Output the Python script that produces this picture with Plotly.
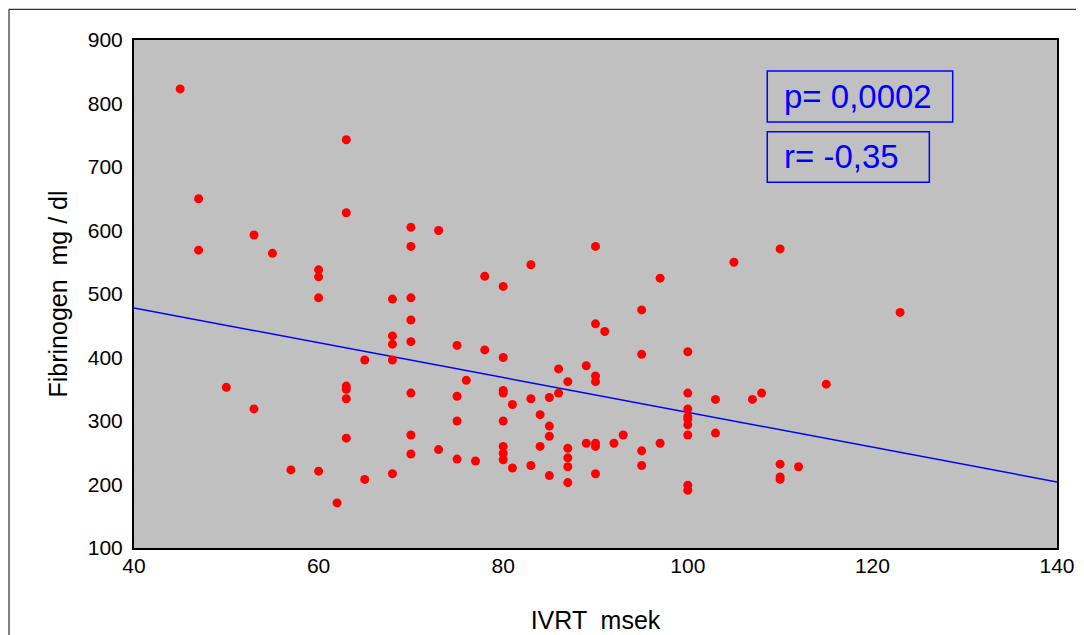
import plotly.graph_objects as go

ivrt = [45, 47, 47, 50, 53, 53, 55, 57, 60, 60, 60, 60, 62, 63, 63, 63, 63, 63, 63,
        65, 65, 68, 68, 68, 68, 68, 70, 70, 70, 70, 70, 70, 70, 70, 73, 73,
        75, 75, 75, 75, 76, 77, 78, 78, 80, 80, 80, 80, 80, 80, 80, 80, 81, 81,
        83, 83, 83, 84, 84, 85, 85, 85, 85, 86, 86, 87, 87, 87, 87, 87, 89, 89,
        90, 90, 90, 90, 90, 90, 90, 91, 92, 93, 95, 95, 95, 95, 97, 97,
        100, 100, 100, 100, 100, 100, 100, 100, 100, 103, 103, 105, 107, 108,
        110, 110, 110, 110, 112, 115, 123]
fibrinogen = [823, 650, 569, 353, 593, 319, 564, 223, 538, 527, 494, 221, 171, 743, 628, 355, 350, 335, 273,
              396, 208, 492, 434, 421, 396, 217, 605, 575, 494, 459, 425, 344, 278, 248, 600, 255,
              419, 339, 300, 240, 364, 237, 528, 412, 512, 400, 348, 344, 300, 260, 249, 239, 326, 226,
              546, 335, 230, 310, 260, 337, 292, 276, 214, 382, 344, 362, 257, 242, 228, 203, 387, 265,
              575, 453, 371, 362, 265, 260, 217, 441, 265, 278, 475, 405, 253, 230, 525, 265,
              409, 344, 319, 307, 303, 294, 278, 199, 191, 334, 281, 550, 334, 344,
              571, 232, 212, 208, 228, 358, 471]

fit_x = [40, 140]
fit_y = [478, 204]

x_ticks = [40, 60, 80, 100, 120, 140]
y_ticks = [100, 200, 300, 400, 500, 600, 700, 800, 900]

p_text = "p= 0,0002"
r_text = "r= -0,35"

FONT = "Liberation Sans, Arial, sans-serif"

fig = go.Figure()
fig.add_trace(go.Scatter(x=fit_x, y=fit_y, mode="lines",
                         line=dict(color="#0000FF", width=1.5), hoverinfo="skip"))
fig.add_trace(go.Scatter(x=ivrt, y=fibrinogen, mode="markers",
                         marker=dict(color="#FF0000", size=9, line=dict(width=0))))

# page body has an 8px default margin, so the figure is 8px smaller and offset
fig.update_layout(
    width=1076, height=627,
    margin=dict(l=126, r=27, t=32, b=87),
    paper_bgcolor="white",
    plot_bgcolor="#C0C0C0",
    showlegend=False,
    font=dict(family=FONT, color="black", size=21),
    xaxis=dict(range=[40, 140], tickvals=x_ticks, showgrid=False, zeroline=False,
               showline=True, linecolor="black", linewidth=2, mirror=True,
               ticks="", ticklabelstandoff=-2, automargin=False,
               title=dict(text="IVRT  msek", font=dict(size=25), standoff=35)),
    yaxis=dict(range=[100, 900], tickvals=y_ticks, showgrid=False, zeroline=False,
               showline=True, linecolor="black", linewidth=2, mirror=True,
               ticks="", ticklabelstandoff=5, automargin=False,
               title=dict(text="Fibrinogen  mg / dl", font=dict(size=25), standoff=13)),
    shapes=[
        dict(type="rect", xref="paper", yref="paper", x0=-0.1354, x1=1.1, y0=-0.3, y1=1.0604,
             line=dict(color="black", width=1), fillcolor="rgba(0,0,0,0)", layer="below"),
        dict(type="rect", xref="paper", yref="paper", x0=0.6861, x1=0.887, y0=0.8386, y1=0.939,
             line=dict(color="#0000FF", width=1.5), fillcolor="rgba(0,0,0,0)"),
        dict(type="rect", xref="paper", yref="paper", x0=0.6861, x1=0.8617, y0=0.7199, y1=0.8195,
             line=dict(color="#0000FF", width=1.5), fillcolor="rgba(0,0,0,0)"),
    ],
    annotations=[
        dict(text=p_text, xref="paper", yref="paper", x=0.7017, y=0.888, xanchor="left",
             yanchor="middle", showarrow=False, font=dict(size=33, color="#0000FF", family=FONT)),
        dict(text=r_text, xref="paper", yref="paper", x=0.7017, y=0.7697, xanchor="left",
             yanchor="middle", showarrow=False, font=dict(size=33, color="#0000FF", family=FONT)),
    ],
)

fig.write_html("out.html")
